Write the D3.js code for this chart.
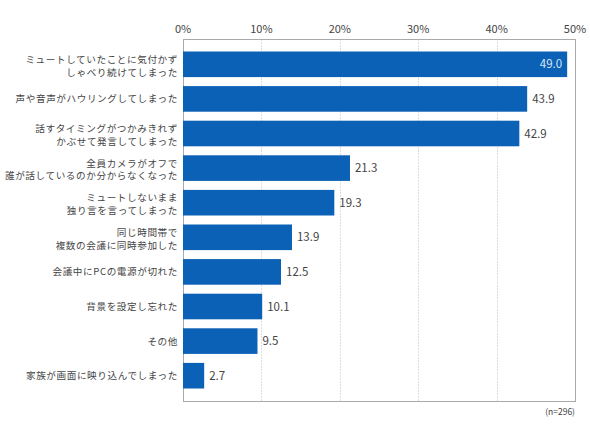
<!DOCTYPE html>
<html>
<head>
<meta charset="utf-8">
<script src="https://cdn.jsdelivr.net/npm/d3@7"></script>
<style>
  html, body { margin: 0; padding: 0; background: #fff; }
  text { font-family: "Noto Sans CJK JP", "Noto Sans", sans-serif; }
</style>
</head>
<body>
<svg id="chart"></svg>
<script>
// Data
const categories = [
  ['ミュートしていたことに気付かず', 'しゃべり続けてしまった'],
  ['声や音声がハウリングしてしまった'],
  ['話すタイミングがつかみきれず', 'かぶせて発言してしまった'],
  ['全員カメラがオフで', '誰が話しているのか分からなくなった'],
  ['ミュートしないまま', '独り言を言ってしまった'],
  ['同じ時間帯で', '複数の会議に同時参加した'],
  ['会議中にPCの電源が切れた'],
  ['背景を設定し忘れた'],
  ['その他'],
  ['家族が画面に映り込んでしまった']
];
const values = [49.0, 43.9, 42.9, 21.3, 19.3, 13.9, 12.5, 10.1, 9.5, 2.7];
const ticks = [0, 10, 20, 30, 40, 50];
const note = '(n=296)';

const width = 590, height = 442;
const plot = { left: 183, right: 575, top: 39.5, bottom: 401.5 };
const barColor = '#0b61b5';

const svg = d3.select('#chart')
  .attr('width', width)
  .attr('height', height);

const x = d3.scaleLinear().domain([0, 50]).range([plot.left, plot.right]);
const y = d3.scaleBand()
  .domain(d3.range(values.length))
  .range([47, 393])
  .paddingInner(0.26)
  .paddingOuter(0.13);

// Gridlines
svg.append('g')
  .selectAll('line')
  .data(ticks.filter(t => t > 0 && t < 50))
  .enter().append('line')
  .attr('x1', d => Math.round(x(d)) + 0.5)
  .attr('x2', d => Math.round(x(d)) + 0.5)
  .attr('y1', plot.top)
  .attr('y2', plot.bottom)
  .attr('stroke', '#bbb')
  .attr('stroke-width', 1)
  .attr('stroke-dasharray', '1,2');

// Frame
svg.append('rect')
  .attr('x', plot.left + 0.5)
  .attr('y', plot.top)
  .attr('width', plot.right - plot.left)
  .attr('height', plot.bottom - plot.top)
  .attr('fill', 'none')
  .attr('stroke', '#aaa')
  .attr('stroke-width', 1);

// Top axis tick labels
svg.append('g')
  .selectAll('text')
  .data(ticks)
  .enter().append('text')
  .attr('x', d => x(d))
  .attr('y', 33)
  .attr('text-anchor', 'middle')
  .attr('fill', '#444')
  .attr('font-size', '11px')
  .text(d => d + '%');

// Bars
svg.append('g')
  .selectAll('rect')
  .data(values)
  .enter().append('rect')
  .attr('x', x(0))
  .attr('y', (d, i) => y(i))
  .attr('width', d => x(d) - x(0))
  .attr('height', y.bandwidth())
  .attr('fill', barColor);

// Value labels
svg.append('g')
  .selectAll('text')
  .data(values)
  .enter().append('text')
  .attr('x', (d, i) => i === 0 ? x(d) - 5 : x(d) + 5)
  .attr('y', (d, i) => y(i) + y.bandwidth() / 2)
  .attr('dy', '0.36em')
  .attr('text-anchor', (d, i) => i === 0 ? 'end' : 'start')
  .attr('fill', (d, i) => i === 0 ? '#d6e6f7' : '#444')
  .attr('font-size', '11.5px')
  .text(d => d.toFixed(1));

// Category labels
const lab = svg.append('g')
  .selectAll('text')
  .data(categories)
  .enter().append('text')
  .attr('text-anchor', 'end')
  .attr('fill', '#444')
  .attr('font-size', '9.6px')
  .attr('letter-spacing', '0.6px')
  .attr('y', (d, i) => y(i) + y.bandwidth() / 2);

lab.selectAll('tspan')
  .data(d => d.map((line, j) => ({ line, j, n: d.length })))
  .enter().append('tspan')
  .attr('x', 178)
  .attr('dy', d => d.j === 0 ? (d.n === 1 ? '0.36em' : '-0.15em') : '1.32em')
  .text(d => d.line);

// Sample size note
svg.append('text')
  .attr('x', plot.right)
  .attr('y', 415)
  .attr('text-anchor', 'end')
  .attr('fill', '#444')
  .attr('font-size', '8.5px')
  .text(note);
</script>
</body>
</html>
